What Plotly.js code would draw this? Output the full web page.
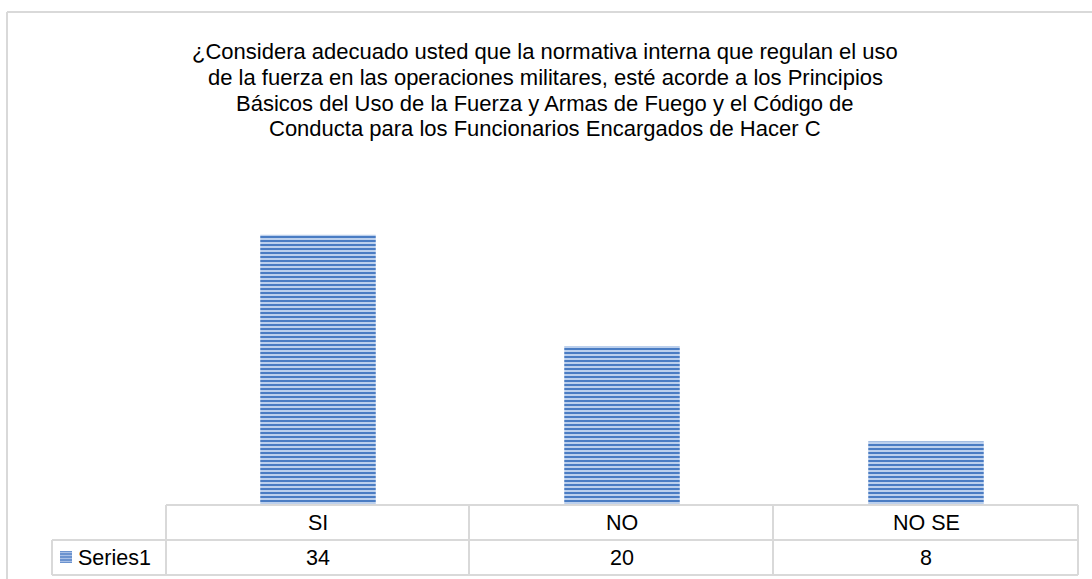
<!DOCTYPE html>
<html>
<head>
<meta charset="utf-8">
<script src="https://cdn.plot.ly/plotly-3.0.1.min.js"></script>
<style>html,body{margin:0;padding:0;background:#fff;}#chart{width:1092px;height:579px;}</style>
</head>
<body>
<div id="chart"></div>
<script>
const categories = ["SI", "NO", "NO SE"];
const seriesName = "Series1";
const values = [34, 20, 8];
const titleLines = [
  "¿Considera adecuado usted que la normativa interna que regulan el uso",
  "de la fuerza en las operaciones militares, esté acorde a los Principios",
  "Básicos del Uso de la Fuerza y Armas de Fuego y el Código de",
  "Conducta para los Funcionarios Encargados de Hacer C"
];

const W = 1092, H = 579;
const px = x => x / W;
const py = y => 1 - y / H;
const lineC = "#d9d9d9";
const font = "Liberation Sans, Arial, sans-serif";

const trace = {
  type: "bar",
  x: categories,
  y: values,
  name: seriesName,
  width: 0.38,
  marker: {
    color: "#b4c9e9",
    line: {width: 0},
    pattern: {shape: "-", fgcolor: "#4a7cc3", bgcolor: "#bcd0ed", size: 4, solidity: 0.5}
  },
  showlegend: false,
  hoverinfo: "none"
};

const shapes = [];
function ln(x0, y0, x1, y1) {
  shapes.push({type: "line", xref: "paper", yref: "paper", x0: px(x0), y0: py(y0), x1: px(x1), y1: py(y1), line: {color: lineC, width: 2}});
}
// outer border
ln(7, 12, 1095, 12);
ln(7, 12, 7, 585);
// table grid
ln(166, 505, 1078, 505);
ln(52, 540, 1078, 540);
ln(52, 575, 1078, 575);
ln(52, 540, 52, 575);
[166, 469, 773, 1078].forEach(x => ln(x, 505, x, 575));
// legend key
shapes.push({type: "rect", xref: "paper", yref: "paper", x0: px(60), x1: px(72), y0: py(551), y1: py(563), fillcolor: "#6b93cf", line: {width: 0}});
for (let k = 0; k < 4; k++) {
  shapes.push({type: "line", xref: "paper", yref: "paper", x0: px(60), x1: px(72), y0: py(552.5 + k * 3), y1: py(552.5 + k * 3), line: {color: "#a9c0e6", width: 1}});
}

const annotations = [];
const titleCenters = [51.6, 77.2, 103.1, 128.8];
titleLines.forEach((t, i) => {
  annotations.push({xref: "paper", yref: "paper", x: px(545), y: py(titleCenters[i]), text: t, showarrow: false, font: {family: font, size: 22, color: "#000"}, xanchor: "center", yanchor: "middle"});
});
const tf = {family: font, size: 21.5, color: "#000"};
categories.forEach((c, i) => {
  annotations.push({xref: "x", yref: "paper", x: c, y: py(523), text: c, showarrow: false, font: tf, xanchor: "center", yanchor: "middle"});
  annotations.push({xref: "x", yref: "paper", x: c, y: py(557.5), text: String(values[i]), showarrow: false, font: tf, xanchor: "center", yanchor: "middle"});
});
annotations.push({xref: "paper", yref: "paper", x: px(76), y: py(557.5), text: seriesName, showarrow: false, font: tf, xanchor: "left", yanchor: "middle"});

const layout = {
  width: W, height: H,
  margin: {l: 0, r: 0, t: 0, b: 0},
  paper_bgcolor: "#fff", plot_bgcolor: "rgba(0,0,0,0)",
  xaxis: {domain: [px(166), px(1078)], showticklabels: false, showgrid: false, zeroline: false, showline: false, ticks: "", fixedrange: true},
  yaxis: {domain: [py(505), py(187)], range: [0, 40], visible: false, showgrid: false, zeroline: false, fixedrange: true},
  shapes: shapes,
  annotations: annotations
};

Plotly.newPlot("chart", [trace], layout, {displayModeBar: false, staticPlot: true});
</script>
</body>
</html>
